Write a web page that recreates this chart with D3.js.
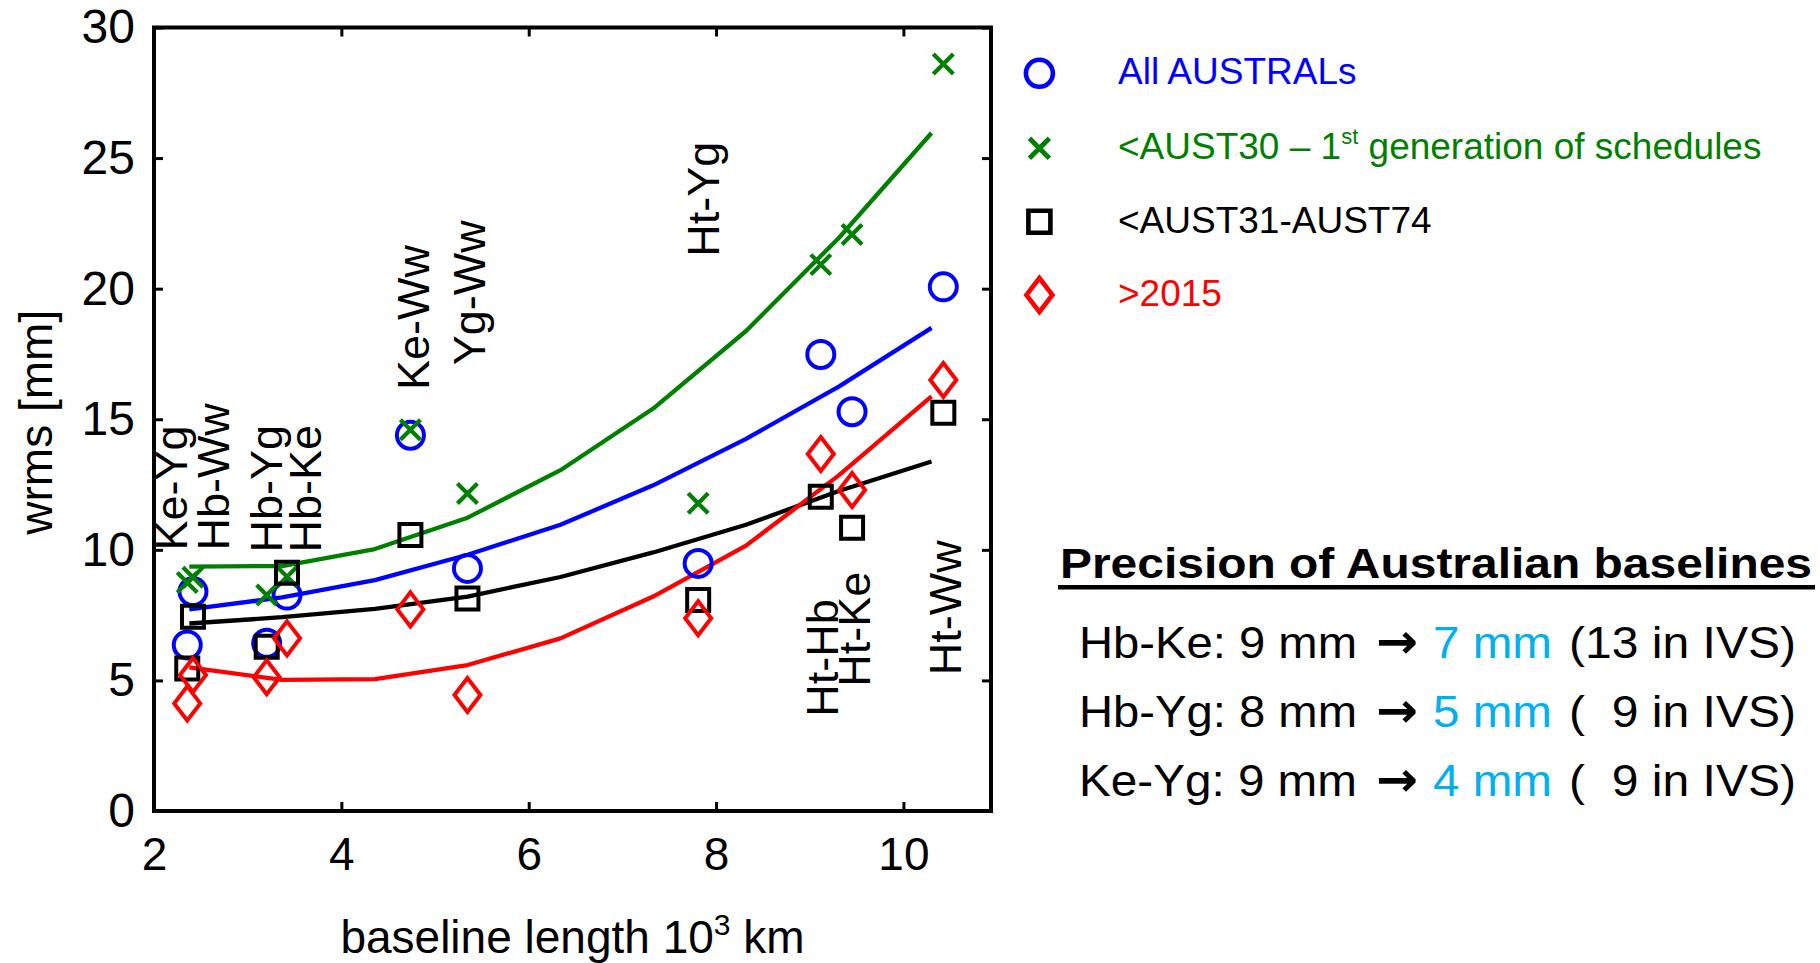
<!DOCTYPE html>
<html>
<head>
<meta charset="utf-8">
<script src="https://cdn.jsdelivr.net/npm/d3@7"></script>
<style>
  html, body { margin: 0; padding: 0; background: #ffffff; }
  svg { display: block; }
  text { font-family: "Liberation Sans", Arial, Helvetica, sans-serif; }
</style>
</head>
<body>
<svg id="chart" width="1820" height="963"></svg>
<script>
// ---- axis ticks ----
const xTicks = [2, 4, 6, 8, 10];
const yTicks = [0, 5, 10, 15, 20, 25, 30];

// ---- station pairs and their baseline lengths (10^3 km) ----
const pairs = ["Ke-Yg", "Hb-Ww", "Hb-Yg", "Hb-Ke", "Ke-Ww", "Yg-Ww", "Ht-Yg", "Ht-Hb", "Ht-Ke", "Ht-Ww"];
const pairLength = [2.355, 2.416, 3.203, 3.42, 4.737, 5.346, 7.809, 9.118, 9.452, 10.426];

// ---- baseline length repeatability (wrms, mm) per session group ----
const wrmsAll    = [6.36, 8.40, 6.42, 8.27, 14.39, 9.29, 9.48, 17.48, 15.29, 20.07];
const wrmsEarly  = [8.75, 8.95, 8.27, 8.97, 14.60, 12.16, 11.78, 20.92, 22.07, 28.60];
const wrmsMid    = [5.46, 7.44, 6.29, 9.12, 10.57, 8.14, 8.08, 12.03, 10.85, 15.25];
const wrmsRecent = [4.12, 5.21, 5.12, 6.61, 7.72, 4.44, 7.38, 13.67, 12.29, 16.50];

// ---- fitted trend curves, sampled along baseline length ----
const fitX      = [2.377, 3.367, 4.358, 5.348, 6.339, 7.329, 8.320, 9.310, 10.300];
const fitAll    = [7.72, 8.18, 8.84, 9.81, 10.96, 12.47, 14.25, 16.25, 18.50];
const fitEarly  = [9.36, 9.38, 10.03, 11.23, 13.05, 15.41, 18.38, 21.94, 25.96];
const fitMid    = [7.18, 7.42, 7.74, 8.21, 8.96, 9.90, 10.96, 12.25, 13.38];
const fitRecent = [5.50, 5.02, 5.05, 5.59, 6.61, 8.21, 10.16, 12.85, 15.88];

// ---- pair name labels: baseline length and wrms where each label starts ----
const labelX = [2.355, 2.80, 3.37, 3.78, 4.94, 5.53, 8.03, 9.30, 9.64, 10.62];
const labelY = [9.97, 9.97, 9.9, 9.9, 16.12, 17.07, 21.22, 3.61, 4.76, 5.2];

// ---- legend entries ----
const legendNames = ["All AUSTRALs", "<AUST30 \u2013 1|st| generation of schedules", "<AUST31-AUST74", ">2015"];

// ---- summary box ----
const summaryTitle = "Precision of Australian baselines";
const summaryPairs = ["Hb-Ke", "Hb-Yg", "Ke-Yg"];
const summaryBefore = [9, 8, 9];
const summaryAfter = [7, 5, 4];
const summaryIvs = ["(13 in IVS)", "(\u00a0 9 in IVS)", "(\u00a0 9 in IVS)"];

const colors = { all: "#0000ff", early: "#008000", mid: "#000000", recent: "#ff0000" };
const highlight = "#00b0f0";

const svg = d3.select("#chart");
const W = 1820, H = 963;
svg.append("rect").attr("width", W).attr("height", H).attr("fill", "#fff");

const plot = { left: 154, right: 991, top: 27.5, bottom: 811 };
const x = d3.scaleLinear().domain([2, 10.935]).range([plot.left, plot.right]);
const y = d3.scaleLinear().domain([0, 30]).range([plot.bottom, plot.top]);

// ---- axes (ticks pointing inward on all four sides) ----
const tickLen = 9;
const gx = svg.append("g").attr("transform", `translate(0,${plot.bottom})`)
  .call(d3.axisBottom(x).tickValues(xTicks).tickSize(-tickLen).tickPadding(26).tickFormat(d3.format("d")));
const gy = svg.append("g").attr("transform", `translate(${plot.left},0)`)
  .call(d3.axisLeft(y).tickValues(yTicks).tickSize(-tickLen).tickPadding(19).tickFormat(d3.format("d")));
const gt = svg.append("g").attr("transform", `translate(0,${plot.top})`)
  .call(d3.axisTop(x).tickValues(xTicks).tickSize(-tickLen).tickFormat(""));
const gr = svg.append("g").attr("transform", `translate(${plot.right},0)`)
  .call(d3.axisRight(y).tickValues(yTicks).tickSize(-tickLen).tickFormat(""));

[gx, gy, gt, gr].forEach(g => {
  g.select(".domain").remove();
  g.selectAll(".tick line").attr("stroke", "#000").attr("stroke-width", 3);
  g.selectAll(".tick text").attr("fill", "#000").style("font-family", '"Liberation Sans", Arial, sans-serif');
});
gx.selectAll(".tick text").style("font-size", "46px");
gy.selectAll(".tick text").style("font-size", "48px");

// plot frame
svg.append("rect")
  .attr("x", plot.left).attr("y", plot.top)
  .attr("width", plot.right - plot.left).attr("height", plot.bottom - plot.top)
  .attr("fill", "none").attr("stroke", "#000").attr("stroke-width", 4);

// axis titles
const xTitle = svg.append("text")
  .attr("x", (plot.left + plot.right) / 2).attr("y", 953)
  .attr("text-anchor", "middle").style("font-size", "46px").attr("fill", "#000");
xTitle.append("tspan").text("baseline length 10");
xTitle.append("tspan").attr("dy", -18).style("font-size", "30px").text("3");
xTitle.append("tspan").attr("dy", 18).text(" km");

svg.append("text")
  .attr("transform", `translate(52,${(plot.top + plot.bottom) / 2 + 3}) rotate(-90)`)
  .attr("text-anchor", "middle").style("font-size", "46px").attr("fill", "#000")
  .text("wrms [mm]");

// ---- fitted curves ----
const line = d3.line().x(d => x(d[0])).y(d => y(d[1]));
const fits = [
  { vals: fitAll, color: colors.all },
  { vals: fitEarly, color: colors.early },
  { vals: fitMid, color: colors.mid },
  { vals: fitRecent, color: colors.recent }
];
svg.append("g").selectAll("path").data(fits).join("path")
  .attr("d", f => line(fitX.map((xv, i) => [xv, f.vals[i]])))
  .attr("fill", "none").attr("stroke", f => f.color).attr("stroke-width", 4.3)
  .attr("stroke-linejoin", "round");

// ---- marker shapes ----
const markerPath = {
  circle: "M13.5,0A13.5,13.5 0 1,1 -13.5,0A13.5,13.5 0 1,1 13.5,0Z",
  cross: "M-10,-10L10,10M-10,10L10,-10",
  square: "M-11,-11H11V11H-11Z",
  diamond: "M0,-17L13,0L0,17L-13,0Z"
};
const markerWidth = { circle: 4, cross: 4.2, square: 4, diamond: 4 };

const series = [
  { vals: wrmsAll, color: colors.all, shape: "circle" },
  { vals: wrmsEarly, color: colors.early, shape: "cross" },
  { vals: wrmsMid, color: colors.mid, shape: "square" },
  { vals: wrmsRecent, color: colors.recent, shape: "diamond" }
];
series.forEach(s => {
  svg.append("g").selectAll("path")
    .data(pairLength.map((len, i) => [len, s.vals[i]]).filter(d => d[1] != null))
    .join("path")
    .attr("transform", d => `translate(${x(d[0])},${y(d[1])})`)
    .attr("d", markerPath[s.shape])
    .attr("fill", "none").attr("stroke", s.color)
    .attr("stroke-width", markerWidth[s.shape]);
});

// ---- pair name labels (vertical) ----
svg.append("g").selectAll("text").data(pairs).join("text")
  .attr("transform", (p, i) => `translate(${x(labelX[i])},${y(labelY[i])}) rotate(-90)`)
  .style("font-size", "45px").attr("fill", "#000")
  .text(p => p);

// ---- legend ----
const legendColors = [colors.all, colors.early, colors.mid, colors.recent];
const legendShapes = ["circle", "cross", "square", "diamond"];
const legendRowY = [73.3, 148.3, 221.7, 295];
const lg = svg.append("g");
legendNames.forEach((name, i) => {
  lg.append("path")
    .attr("transform", `translate(1039.4,${legendRowY[i]})`)
    .attr("d", markerPath[legendShapes[i]])
    .attr("fill", "none").attr("stroke", legendColors[i])
    .attr("stroke-width", markerWidth[legendShapes[i]] + 0.6);
  const t = lg.append("text")
    .attr("x", 1118).attr("y", legendRowY[i] + 11)
    .style("font-size", "37px").attr("fill", legendColors[i]);
  name.split("|").forEach((part, k) => {
    if (k === 1) t.append("tspan").attr("dy", -15).style("font-size", "22px").text(part);
    else if (k === 2) t.append("tspan").attr("dy", 15).text(part);
    else t.append("tspan").text(part);
  });
});

// ---- summary box ----
svg.append("text")
  .attr("x", 1060).attr("y", 578)
  .attr("textLength", 752).attr("lengthAdjust", "spacingAndGlyphs")
  .style("font-size", "42px").style("font-weight", "bold").attr("fill", "#000")
  .text(summaryTitle);
svg.append("rect").attr("x", 1058).attr("y", 585).attr("width", 757).attr("height", 4.5).attr("fill", "#000");

const rowBase = [658.3, 727.3, 796];
summaryPairs.forEach((p, i) => {
  const yb = rowBase[i];
  svg.append("text").attr("x", 1079).attr("y", yb)
    .attr("textLength", 278).attr("lengthAdjust", "spacingAndGlyphs")
    .style("font-size", "45px").attr("fill", "#000")
    .text(`${p}: ${summaryBefore[i]} mm`);
  svg.append("text").attr("x", 1376).attr("y", yb)
    .attr("textLength", 42).attr("lengthAdjust", "spacingAndGlyphs")
    .style("font-family", '"DejaVu Sans", sans-serif')
    .style("font-size", "48px").style("font-weight", "bold").attr("fill", "#000")
    .text("\u2192");
  svg.append("text").attr("x", 1433).attr("y", yb)
    .attr("textLength", 119).attr("lengthAdjust", "spacingAndGlyphs")
    .style("font-size", "45px").attr("fill", highlight)
    .text(`${summaryAfter[i]} mm`);
  svg.append("text").attr("x", 1569).attr("y", yb)
    .attr("textLength", 227).attr("lengthAdjust", "spacingAndGlyphs")
    .style("font-size", "45px").attr("fill", "#000")
    .style("white-space", "pre")
    .text(summaryIvs[i]);
});
</script>
</body>
</html>
